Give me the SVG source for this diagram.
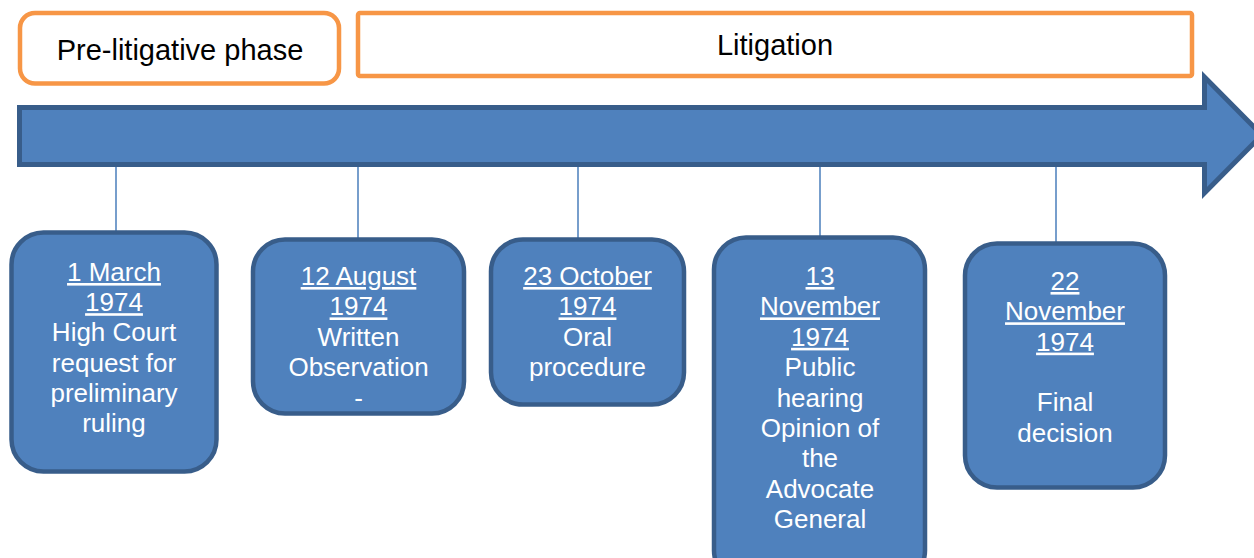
<svg xmlns="http://www.w3.org/2000/svg" width="1254" height="558" viewBox="0 0 1254 558">
<style>
.phase{fill:#FFFFFF;stroke:#F79646;stroke-width:4.5}
.ptxt{font-family:"Liberation Sans",Arial,sans-serif;font-size:29px;fill:#000000;text-anchor:middle}
.box{fill:#4F81BD;stroke:#385D8A;stroke-width:4.5}
.btxt{font-family:"Liberation Sans",Arial,sans-serif;font-size:26px;fill:#FFFFFF;text-anchor:middle}
.u{text-decoration:underline}
.conn{stroke:#4A7EBB;stroke-width:1.5;fill:none}
</style>
<g id="phase-pre">
<rect class="phase" x="20" y="13" width="319" height="70.5" rx="15"/>
<text class="ptxt" x="180" y="60">Pre-litigative phase</text>
</g>
<g id="phase-litigation">
<rect class="phase" x="358" y="13" width="834" height="63" rx="2"/>
<text class="ptxt" x="775" y="55">Litigation</text>
</g>
<g id="timeline-arrow">
<path d="M19.5,107.5 L1204.5,107.5 L1204.5,77 L1262,135 L1204.5,193 L1204.5,164.5 L19.5,164.5 Z" fill="#4F81BD" stroke="#385D8A" stroke-width="5"/>
</g>
<g id="connectors">
<line class="conn" x1="116" y1="167" x2="116" y2="232"/>
<line class="conn" x1="358" y1="167" x2="358" y2="239"/>
<line class="conn" x1="578" y1="167" x2="578" y2="239"/>
<line class="conn" x1="820" y1="167" x2="820" y2="237"/>
<line class="conn" x1="1056" y1="167" x2="1056" y2="243"/>
</g>
<g id="event-1">
<rect class="box" x="11.5" y="232.5" width="205" height="239" rx="32"/>
<text class="btxt" x="114" y="281"><tspan class="u" x="114">1 March</tspan><tspan class="u" x="114" dy="30.2">1974</tspan><tspan x="114" dy="30.2">High Court</tspan><tspan x="114" dy="30.2">request for</tspan><tspan x="114" dy="30.2">preliminary</tspan><tspan x="114" dy="30.2">ruling</tspan></text>
</g>
<g id="event-2">
<rect class="box" x="253" y="239.5" width="211" height="174" rx="32"/>
<text class="btxt" x="358.5" y="285"><tspan class="u" x="358.5">12 August</tspan><tspan class="u" x="358.5" dy="30.4">1974</tspan><tspan x="358.5" dy="30.4">Written</tspan><tspan x="358.5" dy="30.4">Observation</tspan><tspan x="358.5" dy="30.4">-</tspan></text>
</g>
<g id="event-3">
<rect class="box" x="491" y="239.5" width="193" height="165" rx="32"/>
<text class="btxt" x="587.5" y="285"><tspan class="u" x="587.5">23 October</tspan><tspan class="u" x="587.5" dy="30.4">1974</tspan><tspan x="587.5" dy="30.4">Oral</tspan><tspan x="587.5" dy="30.4">procedure</tspan></text>
</g>
<g id="event-4">
<rect class="box" x="714" y="237.5" width="211" height="345" rx="32"/>
<text class="btxt" x="820" y="285"><tspan class="u" x="820">13</tspan><tspan class="u" x="820" dy="30.4">November</tspan><tspan class="u" x="820" dy="30.4">1974</tspan><tspan x="820" dy="30.4">Public</tspan><tspan x="820" dy="30.4">hearing</tspan><tspan x="820" dy="30.4">Opinion of</tspan><tspan x="820" dy="30.4">the</tspan><tspan x="820" dy="30.4">Advocate</tspan><tspan x="820" dy="30.4">General</tspan></text>
</g>
<g id="event-5">
<rect class="box" x="965" y="243.5" width="200" height="244" rx="32"/>
<text class="btxt" x="1065" y="290"><tspan class="u" x="1065">22</tspan><tspan class="u" x="1065" dy="30.3">November</tspan><tspan class="u" x="1065" dy="30.3">1974</tspan><tspan x="1065" dy="60.6">Final</tspan><tspan x="1065" dy="30.3">decision</tspan></text>
</g>
</svg>
